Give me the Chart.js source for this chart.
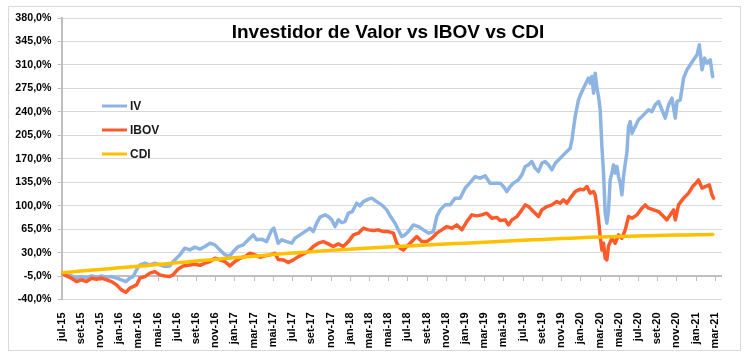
<!DOCTYPE html>
<html><head><meta charset="utf-8">
<script src="https://cdn.jsdelivr.net/npm/chart.js@4.4.1/dist/chart.umd.min.js"></script>
<style>
html,body{margin:0;padding:0;background:#fff;}
#wrap{position:relative;width:750px;height:357px;overflow:hidden;}
#frame{position:absolute;left:8px;top:6px;width:731px;height:343px;border:1px solid #d9d9d9;pointer-events:none;}
canvas{position:absolute;left:0;top:0;}
</style></head><body>
<div id="wrap"><canvas id="c" width="750" height="357"></canvas><div id="frame"></div></div>
<script>
// ---- DATA (months since jul-15 ; cumulative return %) ----
const titleText = 'Investidor de Valor vs IBOV vs CDI';
const seriesNames = ['IV', 'IBOV', 'CDI'];
const xTickLabels = ['jul-15','set-15','nov-15','jan-16','mar-16','mai-16','jul-16','set-16','nov-16','jan-17','mar-17','mai-17','jul-17','set-17','nov-17','jan-18','mar-18','mai-18','jul-18','set-18','nov-18','jan-19','mar-19','mai-19','jul-19','set-19','nov-19','jan-20','mar-20','mai-20','jul-20','set-20','nov-20','jan-21','mar-21'];
const yMin = -40, yMax = 380, yStep = 35, axisCross = -5;

const ivMonths = [0,0.52,1.04,1.56,2.08,2.60,3.13,3.65,4.17,4.69,5.21,5.73,6.25,6.70,7.11,7.46,7.81,8.16,8.68,9.20,9.72,10.24,10.76,11.28,11.63,12.32,12.84,13.36,13.89,14.41,14.93,15.45,15.97,16.49,17.01,17.53,17.88,18.40,18.92,19.44,19.96,20.31,20.83,21.35,21.88,22.11,22.56,22.92,23.44,23.96,24.30,24.82,25.34,25.86,26.21,26.56,26.91,27.43,27.77,28.13,28.47,28.82,29.17,29.51,29.86,30.27,30.73,31.07,31.42,31.94,32.29,32.81,33.33,33.85,34.20,34.72,35.06,35.41,35.76,36.10,36.63,37.15,37.67,38.19,38.71,39.06,39.41,39.93,40.45,40.97,41.49,42.01,42.53,43.05,43.57,44.09,44.61,45.14,45.66,46.00,46.35,46.70,47.04,47.56,47.92,48.26,48.61,48.96,49.30,49.65,50.00,50.34,50.69,51.04,51.39,51.91,52.25,52.60,52.95,53.13,53.47,53.81,54.17,54.51,54.85,55.03,55.21,55.38,55.55,55.73,55.90,56.07,56.25,56.42,56.59,56.77,56.94,57.11,57.29,57.46,57.64,57.81,57.98,58.16,58.33,58.50,58.68,58.85,59.02,59.20,59.38,59.72,60.06,60.42,60.76,61.10,61.46,61.80,62.15,62.50,62.84,63.19,63.54,63.89,64.06,64.41,64.75,65.10,65.45,65.79,66.15,66.39,66.67,66.94,67.19,67.53,67.77];
const ivValues = [0,-3.3,-4.8,-8.2,-5.8,-8.2,-4.8,-6.7,-4.8,-6.7,-5.8,-8.2,-10.7,-13.3,-8.2,-5.8,4.2,11.6,14.2,11.6,14.2,11.6,9.1,10.1,16.6,26.6,36.6,34.0,38.1,35.1,39.0,44.0,41.5,34.0,26.6,25.1,31.5,39.0,41.5,49.0,56.4,49.0,50.0,46.4,63.9,66.4,44.0,49.0,46.4,44.0,51.5,56.4,61.3,66.4,61.3,73.9,82.8,86.3,83.7,78.8,68.8,78.8,74.8,76.3,88.8,91.2,103.7,99.7,106.1,109.7,111.2,106.1,101.2,93.7,85.0,73.9,63.9,53.9,56.4,61.3,71.3,68.8,63.9,59.0,61.3,83.7,93.7,101.2,101.2,111.2,111.2,126.1,134.5,143.4,141.0,144.5,133.6,133.5,133.6,128.5,121.0,128.5,133.6,138.5,146.0,158.4,160.9,165.8,156.0,150.9,163.4,165.8,160.9,153.4,163.4,170.9,175.8,180.7,185.8,198.2,233.0,257.9,270.3,280.3,290.3,282.8,292.7,267.9,297.7,275.4,262.8,243.0,188.2,148.5,88.8,73.9,93.7,138.5,148.5,160.9,148.5,158.4,143.4,133.6,116.1,143.4,163.4,178.4,218.1,225.5,208.2,218.1,228.1,233.0,238.1,243.0,240.4,250.4,255.4,243.0,230.6,250.4,260.4,230.6,255.4,257.9,290.3,302.7,310.1,317.6,325.1,340.0,302.7,320.1,312.7,317.6,292.7];

const ibovMonths = [0,0.52,1.04,1.56,2.08,2.60,3.13,3.65,4.17,4.69,5.21,5.73,6.25,6.70,7.11,7.46,7.81,8.16,8.68,9.20,9.72,10.24,10.76,11.28,11.63,12.14,12.67,13.19,13.89,14.41,14.93,15.45,15.97,16.49,17.01,17.53,18.05,18.57,19.09,19.61,20.14,20.66,21.18,21.70,22.22,22.56,23.08,23.60,24.13,24.65,25.17,25.69,26.21,26.73,27.25,27.77,28.29,28.81,29.33,29.86,30.38,30.90,31.42,31.94,32.46,32.98,33.50,34.02,34.54,34.90,35.24,35.58,35.94,36.46,36.98,37.50,38.02,38.54,39.06,39.58,40.10,40.63,41.15,41.67,42.19,42.71,43.23,43.75,44.27,44.79,45.31,45.66,46.18,46.52,46.88,47.40,47.92,48.26,48.61,48.96,49.30,49.65,50.00,50.52,51.04,51.56,51.91,52.25,52.60,52.95,53.47,53.99,54.33,54.69,55.03,55.38,55.55,55.73,55.90,56.07,56.25,56.42,56.59,56.77,56.94,57.29,57.64,57.98,58.33,58.68,59.02,59.38,59.90,60.42,60.76,61.10,61.63,62.15,62.67,63.02,63.36,63.71,63.89,64.23,64.75,65.27,65.69,66.04,66.31,66.67,67.01,67.43,67.71,67.88];
const ibovValues = [0,-4.8,-8.2,-13.3,-10.7,-13.3,-8.2,-9.7,-8.2,-10.7,-13.3,-18.2,-25.7,-29.1,-23.1,-20.7,-18.2,-8.2,-5.8,-0.7,1.6,-3.3,-5.0,-5.8,-3.0,5.5,10.0,11.0,12.5,11.0,14.2,16.6,21.6,19.1,16.6,10.1,16.6,21.6,24.0,29.1,26.6,23.1,25.1,26.6,29.1,19.6,19.1,15.1,19.1,24.0,28.1,31.5,39.0,44.0,46.4,43.0,39.0,43.0,39.0,46.4,56.4,59.0,66.4,63.9,62.8,63.9,61.3,61.3,59.0,44.0,36.6,34.0,39.0,46.4,53.9,46.4,46.4,51.5,59.0,63.9,68.8,66.4,71.3,63.9,76.3,86.3,84.8,86.3,88.8,81.3,82.5,77.8,78.8,71.3,78.8,83.7,93.7,101.2,98.7,93.7,88.8,83.7,93.7,98.7,101.2,106.1,103.7,108.7,103.7,111.2,121.0,124.6,123.6,128.5,118.7,121.0,116.1,98.7,78.8,53.9,34.0,44.0,21.6,19.1,40.0,51.5,44.0,56.4,51.5,63.9,83.7,81.3,86.3,96.3,101.2,96.3,93.7,91.2,83.7,78.8,86.3,93.7,78.8,101.2,111.2,118.7,128.5,133.6,138.5,126.1,128.5,131.0,116.1,111.2];

const cdiMonths = [0,1,2,3,4,5,6,7,8,9,10,11,12,13,14,15,16,17,18,19,20,21,22,23,24,25,26,27,28,29,30,31,32,33,34,35,36,37,38,39,40,41,42,43,44,45,46,47,48,49,50,51,52,53,54,55,56,57,58,59,60,61,62,63,64,65,66,67,67.8];
const cdiValues = [0.0,1.2,2.4,3.6,4.8,6.0,7.2,8.4,9.6,10.9,12.2,13.5,14.8,16.0,17.3,18.5,19.8,21.0,22.2,23.4,24.6,25.8,27.0,28.1,29.2,30.3,31.3,32.3,33.3,34.2,35.1,36.0,36.8,37.6,38.4,39.2,39.9,40.6,41.3,42.0,42.7,43.4,44.1,44.8,45.5,46.2,46.9,47.6,48.3,49.0,49.7,50.3,50.9,51.5,52.1,52.7,53.2,53.7,54.1,54.5,54.9,55.2,55.5,55.8,56.1,56.3,56.5,56.7,56.9];

const seriesColors = ['#8db4e2', '#ff5a2a', '#ffc000'];

// ---- helpers ----
const FONT = '"Liberation Sans", Arial, Helvetica, sans-serif';
const toPts = (xs, ys) => xs.map((m, i) => ({ x: m, y: ys[i] }));
const fmtPct = v => v.toFixed(1).replace('.', ',') + '%';

const decor = {
  id: 'decor',
  beforeDatasetsDraw(chart) {
    const { ctx, chartArea: a, scales: { x, y } } = chart;
    const y0 = Math.round(y.getPixelForValue(axisCross));
    ctx.save();
    ctx.strokeStyle = '#bfbfbf';
    ctx.lineWidth = 2;
    ctx.beginPath(); ctx.moveTo(a.left, y0); ctx.lineTo(a.right, y0); ctx.stroke();
    ctx.lineWidth = 1;
    x.ticks.forEach(t => {
      const px = Math.round(x.getPixelForValue(t.value)) + 0.5;
      ctx.beginPath(); ctx.moveTo(px, y0); ctx.lineTo(px, y0 + 5); ctx.stroke();
    });
    ctx.restore();
  },
  afterDraw(chart) {
    const { ctx } = chart;
    ctx.save();
    ctx.fillStyle = '#000';
    ctx.font = 'bold 19px ' + FONT;
    ctx.textAlign = 'center';
    ctx.textBaseline = 'alphabetic';
    ctx.fillText(titleText, 388, 38);
    // legend
    ctx.font = 'bold 12px ' + FONT;
    ctx.textAlign = 'left';
    ctx.textBaseline = 'middle';
    chart.data.datasets.forEach((ds, i) => {
      const yy = 106 + i * 24;
      ctx.strokeStyle = ds.borderColor;
      ctx.lineWidth = 3;
      ctx.beginPath(); ctx.moveTo(102, yy); ctx.lineTo(127, yy); ctx.stroke();
      ctx.fillStyle = '#1a1a1a';
      ctx.fillText(ds.label, 130, yy + 1);
    });
    ctx.restore();
  }
};

new Chart(document.getElementById('c'), {
  type: 'line',
  data: {
    datasets: [
      { label: seriesNames[0], data: toPts(ivMonths, ivValues), borderColor: seriesColors[0], order: 2 },
      { label: seriesNames[1], data: toPts(ibovMonths, ibovValues), borderColor: seriesColors[1], order: 1 },
      { label: seriesNames[2], data: toPts(cdiMonths, cdiValues), borderColor: seriesColors[2], order: 0 }
    ]
  },
  options: {
    responsive: false,
    animation: false,
    devicePixelRatio: 1,
    layout: { padding: { left: 0, right: 28, top: 18, bottom: 0 } },
    elements: {
      point: { radius: 0 },
      line: { borderWidth: 3.5, tension: 0, borderCapStyle: 'round', borderJoinStyle: 'round' }
    },
    plugins: { legend: { display: false }, title: { display: false }, tooltip: { enabled: false } },
    scales: {
      x: {
        type: 'linear',
        min: 0,
        max: 68.75,
        afterFit(s) { s.height = 57.5; },
        afterBuildTicks(s) { s.ticks = xTickLabels.map((l, i) => ({ value: i * 2 })); },
        grid: { display: false },
        border: { display: false },
        ticks: {
          autoSkip: false,
          minRotation: 90,
          maxRotation: 90,
          padding: 5,
          color: '#000',
          font: { family: FONT, size: 11, weight: 'bold' },
          callback: v => xTickLabels[Math.round(v / 2)]
        }
      },
      y: {
        min: yMin,
        max: yMax,
        afterFit(s) { s.width = 61.5; },
        grid: {
          color: c => (c.tick && c.tick.value === axisCross) ? 'rgba(0,0,0,0)' : '#d9d9d9',
          tickColor: '#bfbfbf',
          tickLength: 4,
          lineWidth: 1
        },
        border: { display: true, color: '#bfbfbf', width: 2 },
        ticks: {
          stepSize: yStep,
          padding: 6,
          color: '#000',
          font: { family: FONT, size: 10.67, weight: 'bold' },
          callback: v => fmtPct(v)
        }
      }
    }
  },
  plugins: [decor]
});
</script>
</body></html>
